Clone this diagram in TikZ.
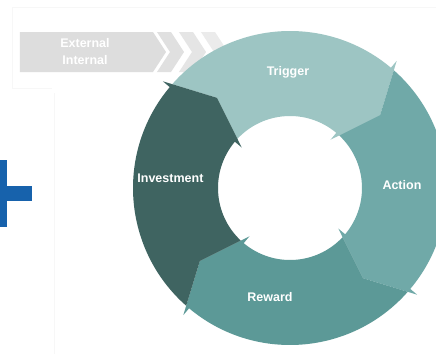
\documentclass[tikz,border=0pt]{standalone}
\usepackage{fontspec}
\setmainfont{Liberation Sans}
\usetikzlibrary{positioning}

\definecolor{trigcol}{HTML}{9DC5C3}
\definecolor{actcol}{HTML}{70A9A8}
\definecolor{rewcol}{HTML}{5C9997}
\definecolor{invcol}{HTML}{3F6461}
\definecolor{plusblue}{HTML}{1762AC}

\begin{document}
\begin{tikzpicture}[x=1pt,y=1pt,
		seglabel/.style  = {text=white, inner sep=0pt, font=\bfseries\fontsize{12.5}{14}\selectfont},
		bannertext/.style = {text=white, inner sep=0pt, align=center, font=\bfseries\fontsize{12.5}{17}\selectfont},
		banner/.style = {fill=gray!27},
		faint/.style  = {draw=gray!6, line width=0.6pt},
		plus/.style   = {fill=plusblue}]
		
		% frame of the picture, ring centre at the origin
		\useasboundingbox (-290,-166) rectangle (146,188);
		\clip (-290,-166) rectangle (146,188);
		\fill[white] (-290,-166) rectangle (146,188);
		
		% faint scan lines
		\draw[faint] (146,181) -- (-278,181) -- (-278,100) -- (-238,100);
		\draw[faint] (-236,95) -- (-236,-166);
		
		% blue plus at the left border
		\fill[plus] (-325,2) rectangle (-258,-13);
		\fill[plus] (-298,28) rectangle (-283,-39);
		
		% external / internal banner with its chevrons
		\fill[banner] (-270,156) -- (-137,156) -- (-124,136) -- (-137,116) -- (-270,116) -- cycle;
		\foreach \x/\shade in {-133/24, -111/20, -89/16}
		\fill[gray!\shade] (\x,156) -- (\x+14,156) -- (\x+27,136) -- (\x+14,116) -- (\x,116) -- (\x+13,136) -- cycle;
		\node[bannertext] (extint) at (-205,136) {External\\Internal};
		
		% the four arrow segments of the ring, clockwise
		\foreach \a/\col in {140/trigcol, 50/actcol, -40/rewcol, -130/invcol}{
			\pgfmathsetmacro\b{\a-90}
			\fill[\col] (\a-1.4:157) arc[start angle=\a-1.4, end angle=\b, radius=157]
			-- (\b:166) -- (\b-11:116) -- (\b:63) -- (\b:72)
			arc[start angle=\b, end angle=\a-3.1, radius=72]
			-- (\a-11:116) -- cycle;
		}
		
		% segment labels
		\node[seglabel] (trigger) at (91:116) {Trigger};
		\node[seglabel] (action) at (1.5:112) {Action};
		\node[seglabel] (reward) at (259.6:111) {Reward};
		\node[seglabel] (investment) at (175.2:120) {Investment};
		
	\end{tikzpicture}
\end{document}
